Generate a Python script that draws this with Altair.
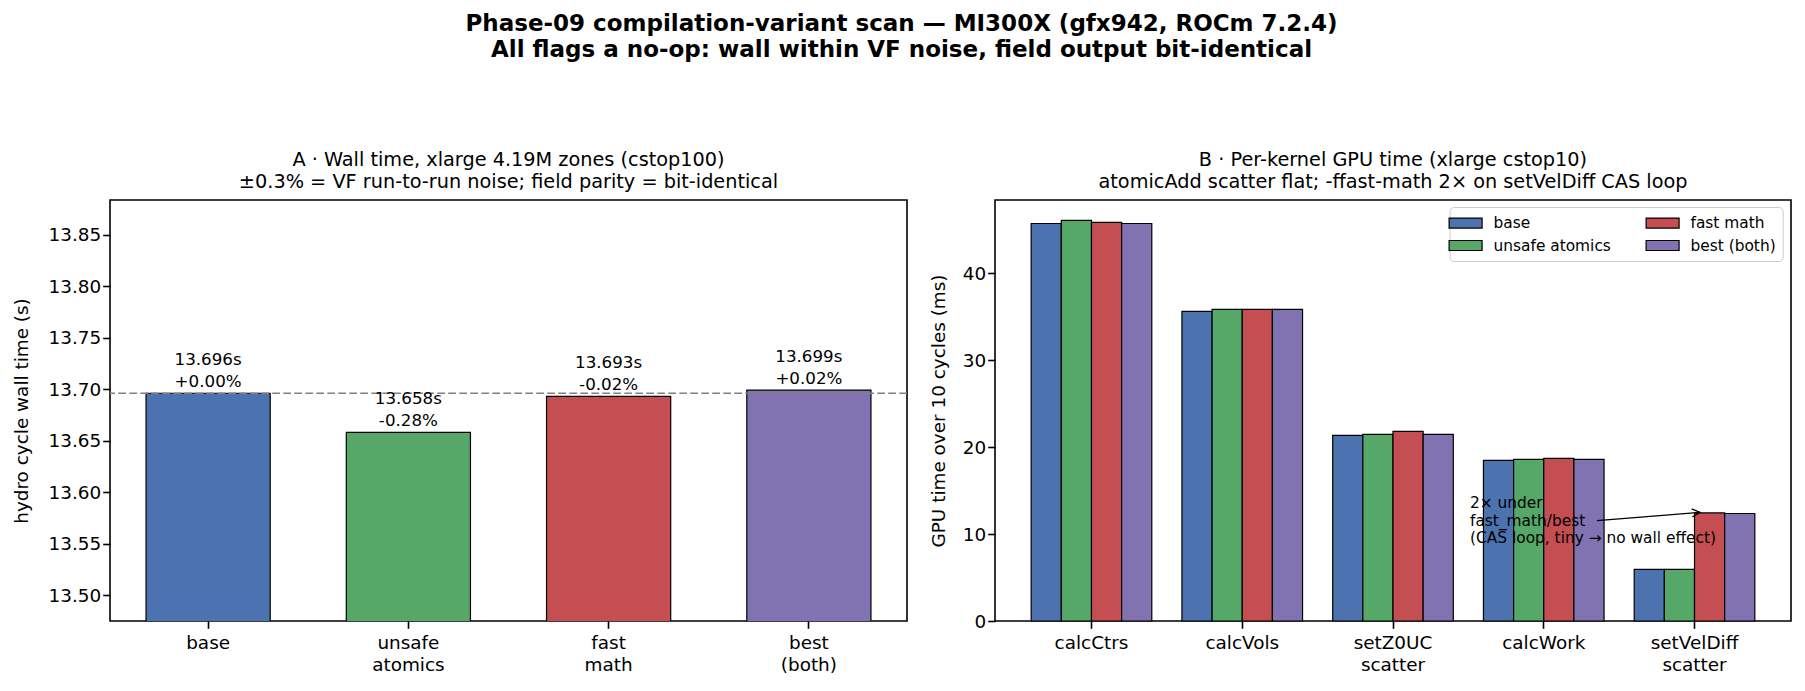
import altair as alt
import pandas as pd

FONT = "DejaVu Sans"

# ---------------- data ----------------
variants = ["base", "unsafe atomics", "fast math", "best (both)"]
variant_ticks = ["base", "unsafe\natomics", "fast\nmath", "best\n(both)"]
colors = ["#4C72B0", "#55A868", "#C44E52", "#8172B2"]

wall_s = [13.696, 13.658, 13.693, 13.699]
wall_delta = ["+0.00%", "-0.28%", "-0.02%", "+0.02%"]

kernels = ["calcCtrs", "calcVols", "setZ0UC\nscatter", "calcWork", "setVelDiff\nscatter"]
gpu_base = [45.7, 35.6, 21.34, 18.47, 5.94]
gpu_unsafe = [46.05, 35.83, 21.46, 18.58, 5.94]
gpu_fast = [45.83, 35.83, 21.8, 18.7, 12.43]
gpu_best = [45.7, 35.83, 21.46, 18.58, 12.36]

note_text = "2\u00d7 under\nfast_math/best\n(CAS loop, tiny \u2192 no wall effect)"

# ---------------- tables ----------------
left_df = pd.DataFrame({
    "variant": variants,
    "tick": variant_ticks,
    "wall": wall_s,
    "lab": [f"{w:.3f}s\n{d}" for w, d in zip(wall_s, wall_delta)],
})
ref_df = pd.DataFrame({"ref": [wall_s[0]]})

rows = []
for series, vals in zip(variants, [gpu_base, gpu_unsafe, gpu_fast, gpu_best]):
    for k, v in zip(kernels, vals):
        rows.append({"kernel": k, "variant": series, "gpu": v})
right_df = pd.DataFrame(rows)
note_df = pd.DataFrame({"note": [note_text]})

W, H = 797, 421

# ---------------- panel A ----------------
xA = alt.X("tick:N", sort=variant_ticks,
           scale=alt.Scale(paddingInner=0.38, paddingOuter=0.18),
           axis=alt.Axis(title=None, labelAngle=0, labelExpr="split(datum.label, '\\n')",
                         labelLineHeight=22, labelPadding=5))
yA = alt.Y("wall:Q", scale=alt.Scale(domain=[13.4748, 13.8837], zero=False, nice=False),
           axis=alt.Axis(title="hydro cycle wall time (s)", format=".2f",
                         values=[13.50, 13.55, 13.60, 13.65, 13.70, 13.75, 13.80, 13.85],
                         titleX=-89, titleY=H / 2, titleAngle=270, titleBaseline="middle",
                         titleAlign="center"))

barsA = alt.Chart(left_df).mark_bar(stroke="black", strokeWidth=1.2, clip=True).encode(
    x=xA, y=yA,
    color=alt.Color("variant:N", scale=alt.Scale(domain=variants, range=colors), legend=None),
)
ruleA = alt.Chart(ref_df).mark_rule(color="#808080", strokeDash=[7.7, 3.3], strokeWidth=1.7).encode(
    y=alt.Y("ref:Q")
)
textA = alt.Chart(left_df).transform_calculate(
    lines="split(datum.lab, '\\n')"
).mark_text(baseline="bottom", dy=-24, fontSize=16.7, lineHeight=21.5, font=FONT, color="black").encode(
    x=alt.X("tick:N", sort=variant_ticks), y=alt.Y("wall:Q"), text=alt.Text("lines:N")
)

panelA = alt.layer(barsA, ruleA, textA).properties(
    width=W, height=H,
    title=alt.TitleParams(
        text=["A \u00b7 Wall time, xlarge 4.19M zones (cstop100)",
              "\u00b10.3% = VF run-to-run noise; field parity = bit-identical"],
        fontSize=19.3, font=FONT, fontWeight="normal", lineHeight=21.7,
        baseline="bottom", offset=-11, anchor="middle", color="black"),
)

# ---------------- panel B ----------------
barsB = alt.Chart(right_df).mark_bar(stroke="black", strokeWidth=1.2).encode(
    x=alt.X("kernel:N", sort=kernels,
            scale=alt.Scale(paddingInner=0.2, paddingOuter=0.24),
            axis=alt.Axis(title=None, labelAngle=0, labelExpr="split(datum.label, '\\n')",
                          labelLineHeight=22, labelPadding=5)),
    xOffset=alt.XOffset("variant:N", sort=variants,
                        scale=alt.Scale(paddingInner=0, paddingOuter=0)),
    y=alt.Y("gpu:Q", scale=alt.Scale(domain=[0, 48.4], nice=False),
            axis=alt.Axis(title="GPU time over 10 cycles (ms)", values=[0, 10, 20, 30, 40],
                          titleX=-57, titleY=H / 2, titleAngle=270, titleBaseline="middle",
                          titleAlign="center")),
    color=alt.Color("variant:N", scale=alt.Scale(domain=variants, range=colors),
                    legend=alt.Legend(
                        title=None, orient="none", legendX=454.6, legendY=7, columns=2,
                        direction="vertical",
                        symbolType="M-1.94,-0.59H1.94V0.59H-1.94Z", symbolSize=289,
                        symbolStrokeColor="black", symbolStrokeWidth=1.2, symbolOpacity=1,
                        labelFontSize=15.4, labelFont=FONT, labelColor="black",
                        labelOffset=18.4, columnPadding=32, rowPadding=4.5, padding=6.5,
                        fillColor="rgba(255,255,255,0.8)", strokeColor="#cccccc",
                        cornerRadius=4, labelLimit=0)),
)

noteB = alt.Chart(note_df).transform_calculate(
    lines="split(datum.note, '\\n')"
).mark_text(align="left", baseline="alphabetic", fontSize=15.4, lineHeight=17.5,
            font=FONT, color="black").encode(
    x=alt.value(475), y=alt.value(308), text=alt.Text("lines:N")
)
arrowB = alt.Chart(note_df).mark_rule(color="black", strokeWidth=1.3).encode(
    x=alt.value(602), y=alt.value(320.7), x2=alt.value(705), y2=alt.value(312.3)
)
headB = alt.Chart(note_df).mark_point(
    shape="M-1,-0.5L0,0L-1,0.5", size=256, filled=False, stroke="black",
    strokeWidth=1.3, angle=355.3, opacity=1
).encode(x=alt.value(705), y=alt.value(312.3))

panelB = alt.layer(barsB, noteB, arrowB, headB).properties(
    width=796, height=H,
    title=alt.TitleParams(
        text=["B \u00b7 Per-kernel GPU time (xlarge cstop10)",
              "atomicAdd scatter flat; -ffast-math 2\u00d7 on setVelDiff CAS loop"],
        fontSize=19.3, font=FONT, fontWeight="normal", lineHeight=21.7,
        baseline="bottom", offset=-11, anchor="middle", color="black"),
)

chart = alt.hconcat(panelA, panelB, spacing=19).resolve_scale(color="independent").properties(
    title=alt.TitleParams(
        text=["Phase-09 compilation-variant scan \u2014 MI300X (gfx942, ROCm 7.2.4)",
              "All flags a no-op: wall within VF noise, field output bit-identical"],
        fontSize=23, font=FONT, fontWeight="bold", lineHeight=26,
        baseline="bottom", offset=65, anchor="middle", color="black"),
    padding={"left": 11, "top": 13, "right": 5, "bottom": 5},
    background="white",
).configure_view(stroke="black", strokeWidth=1.6).configure_axis(
    labelFont=FONT, titleFont=FONT, labelFontSize=18.4, titleFontSize=18.4,
    labelColor="black", titleColor="black", tickColor="black", tickSize=7.3,
    tickWidth=1.6, domain=False, grid=False, titleFontWeight="normal",
)

chart.save("out.html", embed_options={"renderer": "svg", "actions": False})
